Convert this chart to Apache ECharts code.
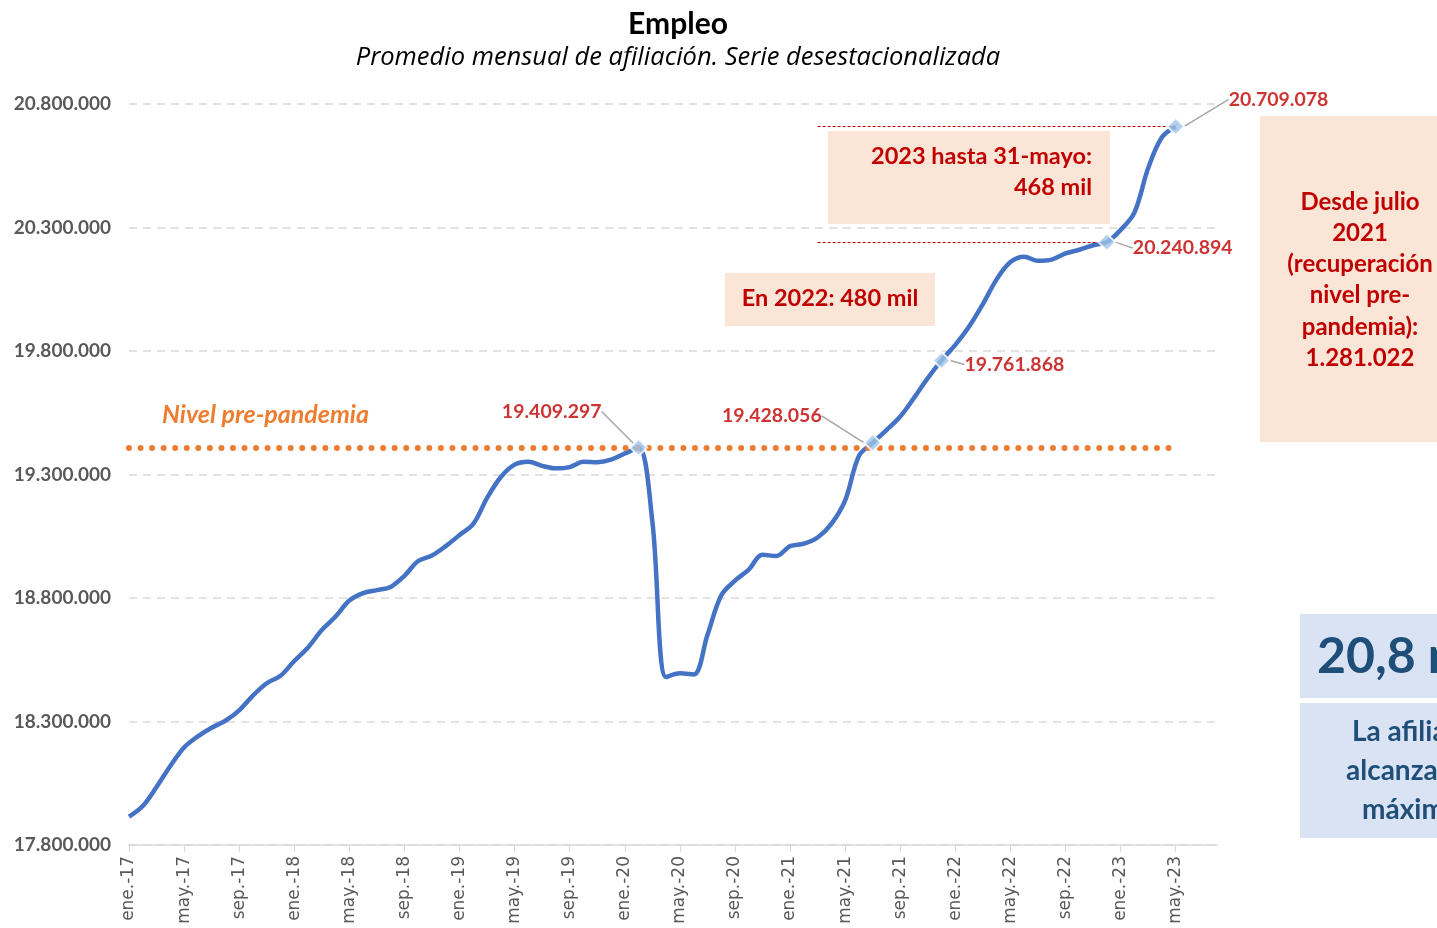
<!DOCTYPE html>
<html>
<head>
<meta charset="utf-8">
<title>Empleo</title>
<script src="https://cdn.jsdelivr.net/npm/echarts@6/dist/echarts.min.js"></script>
<style>
  html, body { margin: 0; padding: 0; background: #fff; }
  #main { width: 1437px; height: 928px; }
</style>
</head>
<body>
<div id="main"></div>
<script>
// meses del eje (ene-17 .. ago-23), una etiqueta cada 4 meses
var months = ['ene.', 'feb.', 'mar.', 'abr.', 'may.', 'jun.', 'jul.', 'ago.', 'sep.', 'oct.', 'nov.', 'dic.']
var years = ['17', '18', '19', '20', '21', '22', '23']
var lastMonth = 'ago.-23'

// afiliación media mensual desestacionalizada
var afiliados = [
  17915000, 17958000, 18035000, 18120000, 18195000, 18240000, 18275000, 18303000, 18345000, 18405000, 18455000, 18485000,
  18545000, 18600000, 18670000, 18725000, 18790000, 18820000, 18832000, 18845000, 18890000, 18950000, 18972000, 19010000,
  19055000, 19100000, 19205000, 19290000, 19340000, 19352000, 19335000, 19325000, 19330000, 19352000, 19350000, 19360000,
  19385000, 19409297, 19110000, 18480000, 18495000, 18490000, 18650000, 18810000, 18870000, 18915000, 18975000, 18970000,
  19010000, 19020000, 19045000, 19100000, 19195000, 19375000, 19428056, 19480000, 19535000, 19610000, 19690000, 19761868,
  19825000, 19899000, 19990000, 20090000, 20160000, 20182000, 20165000, 20170000, 20195000, 20210000, 20228000, 20240894,
  20290000, 20360000, 20540000, 20665000, 20709078
]

// puntos destacados
var hitosMes = ['feb.-20', 'jul.-21', 'dic.-21', 'dic.-22', 'may.-23']
var hitosValor = [19409297, 19428056, 19761868, 20240894, 20709078]

var nivelPrePandemia = 19409297
var yTicks = [17800000, 18300000, 18800000, 19300000, 19800000, 20300000, 20800000]

var categorias = []
for (var y = 0; y < years.length; y++) {
  for (var m = 0; m < months.length; m++) {
    var c = months[m] + '-' + years[y]
    categorias.push(c)
    if (c === lastMonth) break
  }
}

function miles(v) {
  return String(Math.round(v)).replace(/\B(?=(\d{3})+(?!\d))/g, '.')
}

var rojo = '#C00000'
var font = 'Lato, "Noto Sans", sans-serif'

// desplazamiento de cada etiqueta respecto a su marcador: [dx, dy, align]
var labelOffsets = [
  [-37, -36, 'right'],
  [-51, -27, 'right'],
  [23, 4, 'left'],
  [26, 6, 'left'],
  [53, -27, 'left']
]

var myChart = echarts.init(document.getElementById('main'))
var option = {
  backgroundColor: '#fff',
  animation: false,
  grid: { left: 129, right: 220, top: 104, bottom: 83 },
  xAxis: {
    type: 'category',
    data: categorias,
    boundaryGap: false,
    axisLine: { lineStyle: { color: '#D9D9D9', width: 1.5 } },
    axisTick: { interval: 3, length: 7, lineStyle: { color: '#D9D9D9' } },
    axisLabel: {
      interval: 3,
      rotate: 90,
      color: '#595959',
      fontFamily: '"DejaVu Sans", sans-serif',
      fontSize: 17,
      margin: 11
    },
    splitLine: { show: false }
  },
  yAxis: {
    type: 'value',
    min: 17800000,
    max: 20800000,
    axisLine: { show: false },
    axisTick: { show: false, customValues: yTicks },
    axisLabel: {
      customValues: yTicks,
      formatter: miles,
      color: '#595959',
      fontFamily: font,
      fontWeight: 'bold',
      fontSize: 19,
      margin: 18
    },
    splitLine: { lineStyle: { color: '#D9D9D9', width: 1.5, type: [8, 6] } }
  },
  series: [
    {
      name: 'Afiliación',
      type: 'line',
      data: afiliados,
      smooth: 0.35,
      showSymbol: false,
      lineStyle: { color: '#4472C4', width: 4.5 },
      z: 3,
      markLine: {
        silent: true,
        symbol: 'none',
        label: { show: false },
        data: [
          [
            { coord: [0, nivelPrePandemia], lineStyle: { color: '#ED7D31', width: 6, type: [0, 11.55], cap: 'round' } },
            { coord: [76, nivelPrePandemia] }
          ],
          [
            { coord: [50, hitosValor[4]], lineStyle: { color: rojo, width: 1, type: [3, 2] } },
            { coord: [76, hitosValor[4]] }
          ],
          [
            { coord: [50, hitosValor[3]], lineStyle: { color: rojo, width: 1, type: [3, 2] } },
            { coord: [71, hitosValor[3]] }
          ]
        ]
      }
    },
    {
      name: 'Hitos',
      type: 'scatter',
      data: hitosMes.map(function (mes, i) { return [mes, hitosValor[i]] }),
      symbol: 'diamond',
      symbolSize: 17,
      itemStyle: { color: '#9DC3E6', borderColor: '#fff', borderWidth: 2 },
      z: 5,
      label: {
        show: true,
        formatter: function (p) { return miles(p.value[1]) },
        color: rojo,
        fontFamily: font,
        fontWeight: 'bold',
        fontSize: 19.5
      },
      labelLine: { show: true, lineStyle: { color: '#A6A6A6', width: 1.5 } },
      labelLayout: function (p) {
        var o = labelOffsets[p.dataIndex]
        return {
          x: p.rect.x + p.rect.width / 2 + o[0],
          y: p.rect.y + p.rect.height / 2 + o[1],
          align: o[2],
          verticalAlign: 'middle'
        }
      }
    }
  ],
  graphic: [
    { type: 'text', x: 678, y: 24, style: { text: 'Empleo', font: 'bold 30px ' + font, fill: '#000', textAlign: 'center', textVerticalAlign: 'middle' } },
    { type: 'text', x: 678, y: 58, style: { text: 'Promedio mensual de afiliación. Serie desestacionalizada', font: 'italic 25.5px "Open Sans", sans-serif', fill: '#000', textAlign: 'center', textVerticalAlign: 'middle' } },
    { type: 'text', x: 162, y: 415, style: { text: 'Nivel pre-pandemia', font: 'italic bold 25px ' + font, fill: '#ED7D31', textVerticalAlign: 'middle' } },
    // cajas de anotación
    { type: 'rect', shape: { x: 828, y: 131, width: 282, height: 93 }, style: { fill: '#FBE5D6' }, z: 1 },
    { type: 'text', x: 1092, y: 172, z: 2, style: { text: '2023 hasta 31-mayo:\n468 mil', font: 'bold 23.5px ' + font, fill: rojo, textAlign: 'right', textVerticalAlign: 'middle', lineHeight: 31 } },
    { type: 'rect', shape: { x: 725, y: 273, width: 210, height: 53 }, style: { fill: '#FBE5D6' }, z: 1 },
    { type: 'text', x: 830, y: 298, z: 2, style: { text: 'En 2022: 480 mil', font: 'bold 23.5px ' + font, fill: rojo, textAlign: 'center', textVerticalAlign: 'middle' } },
    { type: 'rect', shape: { x: 1260, y: 116, width: 190, height: 326 }, style: { fill: '#FBE5D6' }, z: 1 },
    { type: 'text', x: 1360, y: 280, z: 2, style: { text: 'Desde julio\n2021\n(recuperación\nnivel pre-\npandemia):\n1.281.022', font: 'bold 24px ' + font, fill: rojo, textAlign: 'center', textVerticalAlign: 'middle', lineHeight: 31.2 } },
    { type: 'rect', shape: { x: 1300, y: 614, width: 150, height: 84 }, style: { fill: '#DAE3F3' }, z: 1 },
    { type: 'text', x: 1317, y: 657, z: 2, style: { text: '20,8 millones', font: 'bold 50px ' + font, fill: '#1F4E79', textVerticalAlign: 'middle' } },
    { type: 'rect', shape: { x: 1300, y: 703, width: 150, height: 135 }, style: { fill: '#DAE3F3' }, z: 1 },
    { type: 'text', x: 1352, y: 732, z: 2, style: { text: 'La afiliación', font: 'bold 28px ' + font, fill: '#1F4E79', textVerticalAlign: 'middle' } },
    { type: 'text', x: 1346, y: 771, z: 2, style: { text: 'alcanza un nuevo', font: 'bold 28px ' + font, fill: '#1F4E79', textVerticalAlign: 'middle' } },
    { type: 'text', x: 1362, y: 810, z: 2, style: { text: 'máximo histórico', font: 'bold 28px ' + font, fill: '#1F4E79', textVerticalAlign: 'middle' } }
  ]
}
myChart.setOption(option)
</script>
</body>
</html>
